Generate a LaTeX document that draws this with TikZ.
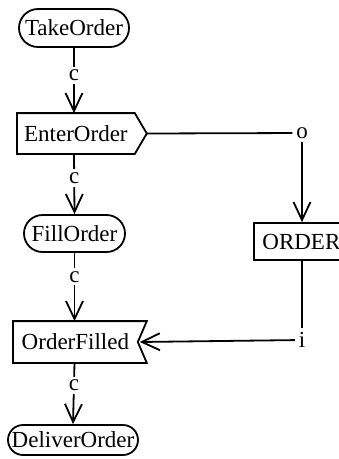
\documentclass[tikz,border=0pt]{standalone}
\usepackage{fontspec}
\setmainfont{Liberation Serif}
\usetikzlibrary{arrows.meta}

\begin{document}
\begin{tikzpicture}[x=1pt, y=-1pt, line width=1.8pt,
    every node/.style={font=\fontsize{23}{27}\selectfont},
    act/.style={rectangle, draw, inner sep=0pt},
    sig/.style={rectangle, inner sep=0pt},
    obj/.style={rectangle, draw, minimum height=37pt, inner xsep=6pt},
    lbl/.style={fill=white, inner sep=3pt},
    flow/.style={-{Straight Barb[length=18pt,width=17pt]}}]
  \clip (0,0) rectangle (339,459);

  \node[act, minimum height=38pt, minimum width=110pt, rounded corners=19pt] (take) at (74,28) {TakeOrder};
  \node[sig, anchor=west, minimum height=39pt, minimum width=116pt] (enter) at (17,133.5) {EnterOrder};
  \node[act, minimum height=37pt, minimum width=101pt, rounded corners=18.5pt] (fill) at (74.5,233.5) {FillOrder};
  \node[sig, anchor=west, minimum height=40pt, minimum width=123pt] (filled) at (13,342) {OrderFilled};
  \node[act, minimum height=30pt, minimum width=130pt, rounded corners=15pt] (deliver) at (73,440) {DeliverOrder};
  \node[obj, anchor=west, minimum width=95pt] (order) at (253,241.5) {ORDER};
  \node[lbl] (o) at (302,133) {o};
  \node[lbl] (i) at (302,340) {i};

  % send and receive signal outlines
  \draw (enter.north west) -- (enter.north east) -- ([xshift=12pt]enter.east)
    -- (enter.south east) -- (enter.south west) -- cycle;
  \draw (filled.north west) -- ([xshift=9pt]filled.north east) -- (filled.east)
    -- ([xshift=9pt]filled.south east) -- (filled.south west) -- cycle;

  \draw[flow] (take.south) -- node[lbl, pos=0.42] (c1) {c} (take.south |- enter.north);
  \draw[flow] (take.south |- enter.south) -- node[lbl, pos=0.4] (c2) {c} (fill.north);
  \draw[flow] (fill.south) -- node[lbl, pos=0.35] (c3) {c} (fill.south |- filled.north);
  \draw[flow] (fill.south |- filled.south) -- node[lbl, pos=0.37] (c4) {c} (deliver.north);

  \draw ([xshift=12pt]enter.east) -- (o);
  \draw[flow] (o) -- (o |- order.north);
  \draw (o |- order.south) -- (i);
  \draw[flow] (i) -- ([xshift=2pt]filled.east);
\end{tikzpicture}
\end{document}
